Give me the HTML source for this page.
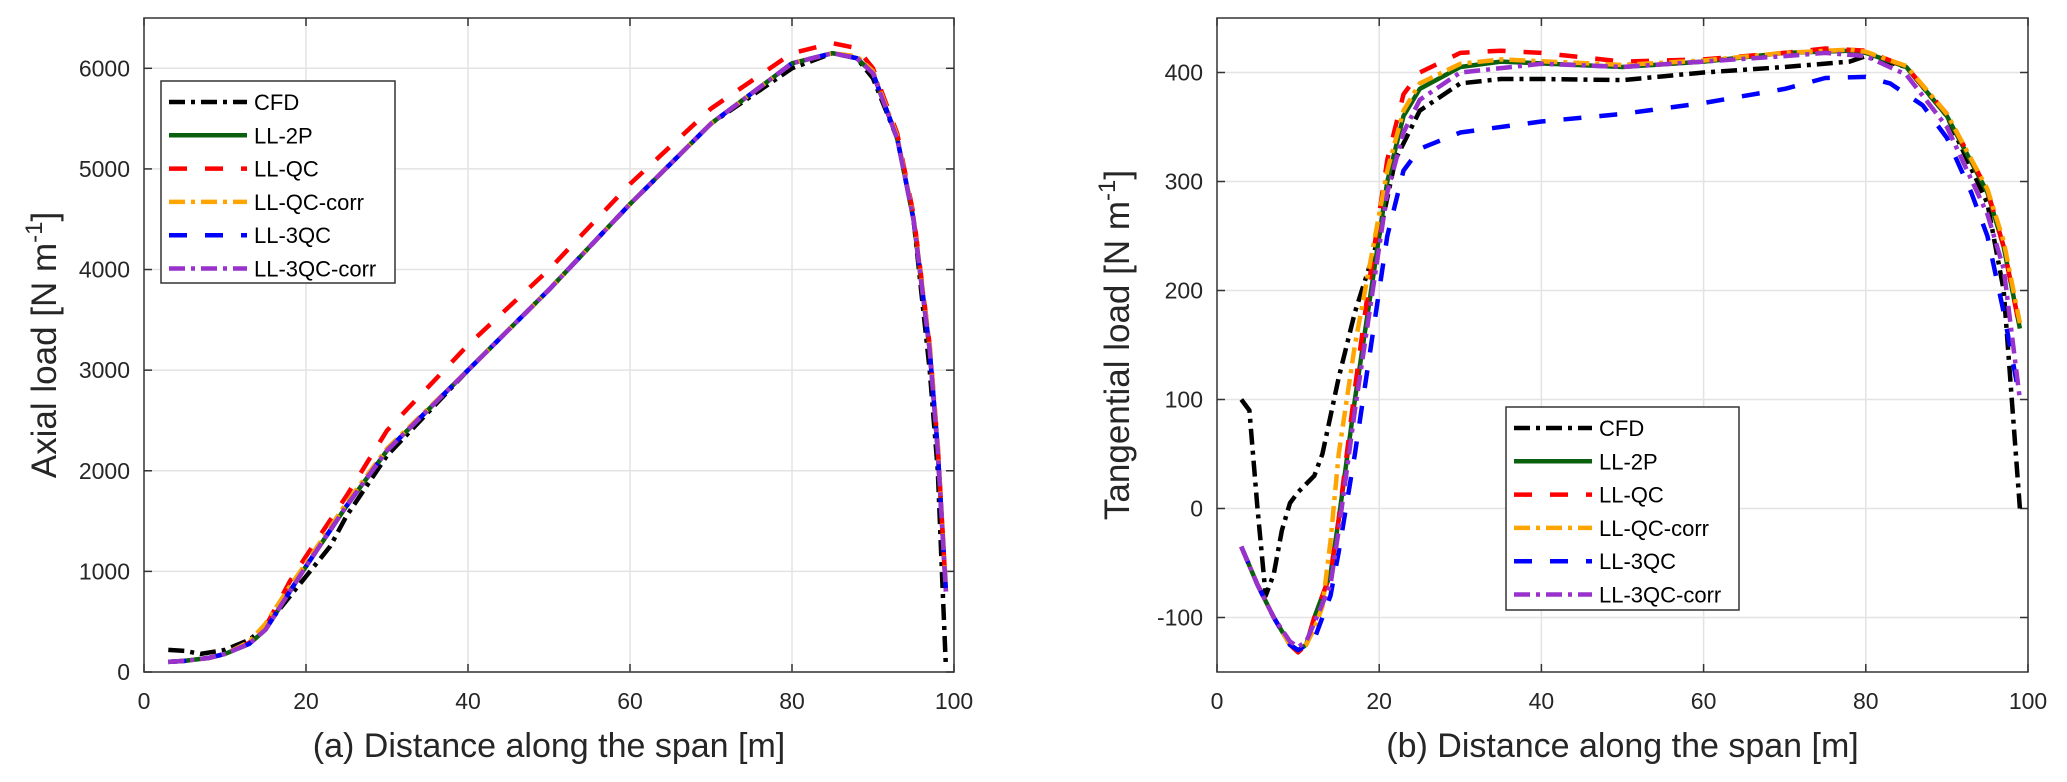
<!DOCTYPE html>
<html><head><meta charset="utf-8"><style>
body{margin:0;background:#fff;}
svg{display:block;font-family:"Liberation Sans",Arial,sans-serif;}
</style></head><body>
<svg id="fig" width="2067" height="782" viewBox="0 0 2067 782" xmlns="http://www.w3.org/2000/svg"></svg>
<script>
// ---- data: left (axial) ----
const axCFDx=[3,5,7,10,13,15,18,20,23,25,30,40,50,60,70,80,85,88,90,93,95,97,98,98.5,99];
const axCFDy=[220,210,180,220,320,450,750,950,1250,1550,2150,3000,3800,4650,5450,6000,6150,6100,5900,5300,4500,3000,2000,1000,50];
const ax2Px=[3,5,8,10,13,15,18,20,25,30,40,50,60,70,80,85,88,90,93,95,97,98,99];
const ax2Py=[100,110,140,180,280,420,800,1050,1650,2200,3000,3800,4650,5450,6050,6150,6100,5950,5300,4500,3200,2200,800];
const axQCx=[3,5,8,10,13,15,18,20,25,30,40,50,60,70,80,85,88,90,93,95,97,98,99];
const axQCy=[100,110,140,180,290,450,900,1150,1750,2400,3250,4000,4850,5600,6150,6250,6200,6000,5350,4550,3250,2250,800];
const axQCcx=[3,5,8,10,13,15,18,20,25,30,40,50,60,70,80,85,88,90,93,95,97,98,99];
const axQCcy=[100,110,140,180,300,480,850,1080,1680,2220,3000,3800,4650,5450,6050,6150,6120,5970,5320,4520,3250,2250,850];
const ax3QCx=[3,5,8,10,13,15,18,20,25,30,40,50,60,70,80,85,88,90,93,95,97,98,99];
const ax3QCy=[100,110,140,180,280,420,800,1050,1650,2200,3000,3800,4650,5450,6050,6150,6100,5950,5300,4500,3200,2200,800];
const ax3QCcx=[3,5,8,10,13,15,18,20,25,30,40,50,60,70,80,85,88,90,93,95,97,98,99];
const ax3QCcy=[100,110,140,180,280,420,800,1050,1650,2200,3000,3800,4650,5450,6050,6150,6100,5950,5300,4500,3200,2200,800];
// ---- data: right (tangential) ----
const tgCFDx=[3,4,5,6,7,8,9,10,12,13,15,17,20,22,25,30,35,40,50,60,70,78,80,85,90,95,97,98,99];
const tgCFDy=[100,90,0,-80,-60,-20,5,15,30,50,120,180,250,320,365,390,394,394,393,400,405,410,415,405,360,280,200,100,0];
const tg2Px=[3,5,7,9,10,11,12,14,15,17,19,21,23,25,30,35,50,60,70,78,80,85,90,95,97,99];
const tg2Py=[-35,-70,-100,-125,-130,-125,-100,-60,-10,100,200,300,360,385,405,410,405,410,418,420,418,405,360,290,240,165];
const tgQCx=[3,5,7,9,10,11,12,14,15,17,19,21,23,25,30,35,40,50,60,70,75,80,85,90,95,97,99];
const tgQCy=[-35,-70,-100,-125,-132,-125,-100,-60,-10,110,220,320,380,400,418,420,418,410,412,418,422,420,405,362,292,240,165];
const tgQCcx=[3,5,7,9,10,11,12,13,14,15,17,19,21,23,25,30,35,50,60,70,78,80,85,90,95,97,99];
const tgQCcy=[-35,-70,-100,-125,-130,-125,-110,-90,-30,50,150,230,310,365,390,408,412,407,411,418,421,419,406,362,293,245,170];
const tg3QCx=[3,5,7,9,10,12,14,15,17,19,21,23,25,30,40,50,60,70,75,80,83,87,90,93,95,97,99];
const tg3QCy=[-35,-70,-100,-125,-130,-120,-80,-40,50,150,250,310,330,345,355,362,372,385,395,396,390,370,340,290,250,180,100];
const tg3QCcx=[3,5,7,9,10,11,12,14,15,17,19,21,23,25,30,40,50,60,70,75,80,85,90,95,97,99];
const tg3QCcy=[-35,-70,-100,-122,-127,-122,-105,-70,-20,90,190,290,345,375,400,408,405,410,415,418,415,398,350,270,220,100];
const xTicks=[0,20,40,60,80,100];
const axYTicks=[0,1000,2000,3000,4000,5000,6000];
const tgYTicks=[-100,0,100,200,300,400];
const names=["CFD","LL-2P","LL-QC","LL-QC-corr","LL-3QC","LL-3QC-corr"];

const NS="http://www.w3.org/2000/svg";
const svg=document.getElementById('fig');
function mk(tag,attrs,parent){const e=document.createElementNS(NS,tag);for(const k in attrs)e.setAttribute(k,attrs[k]);(parent||svg).appendChild(e);return e;}
const styles=[
 {c:"#000000",d:"16 6 4 6"},
 {c:"#0b6010",d:""},
 {c:"#ff0000",d:"18 18"},
 {c:"#ffa500",d:"16 6 4 6"},
 {c:"#0000ff",d:"18 18"},
 {c:"#9932cc",d:"16 6 4 6"}];

function panel(id,L,R,T,B,ymin,ymax,yTicks,series,legend,ylabel,xlabel){
  const g=mk('g',{});
  
  
  const sx=v=>L+(v-0)/(100)*(R-L);
  const sy=v=>B-(v-ymin)/(ymax-ymin)*(B-T);
  mk('rect',{x:L,y:T,width:R-L,height:B-T,fill:'#fff'},g);
  for(const t of xTicks){const x=sx(t);
    if(t>0&&t<100){const gl=mk('line',{x1:x,x2:x,y1:T,y2:B,stroke:'#e3e3e3','stroke-width':1.5},g);}
    mk('line',{x1:x,x2:x,y1:B,y2:B-8,stroke:'#333','stroke-width':1.5},g);
    mk('line',{x1:x,x2:x,y1:T,y2:T+8,stroke:'#333','stroke-width':1.5},g);
    const tx=mk('text',{x:x,y:B+37,'font-size':23,'text-anchor':'middle',fill:'#262626'},g);tx.textContent=t;
    }
  for(const t of yTicks){const y=sy(t);
    const gl=mk('line',{x1:L,x2:R,y1:y,y2:y,stroke:'#e3e3e3','stroke-width':1.5},g);
    mk('line',{x1:L,x2:L+8,y1:y,y2:y,stroke:'#333','stroke-width':1.5},g);
    mk('line',{x1:R,x2:R-8,y1:y,y2:y,stroke:'#333','stroke-width':1.5},g);
    const tx=mk('text',{x:L-14,y:y+8,'font-size':23,'text-anchor':'end',fill:'#262626'},g);tx.textContent=t;
    }
  const clip=mk('clipPath',{id:'clip'+id},g);mk('rect',{x:L,y:T,width:R-L,height:B-T},clip);
  series.forEach((s,i)=>{
    const d=s[0].map((x,j)=>(j?'L':'M')+sx(x).toFixed(1)+','+sy(s[1][j]).toFixed(1)).join(' ');
    const p=mk('path',{d:d,fill:'none',stroke:styles[i].c,'stroke-width':4.5,'stroke-dasharray':styles[i].d,'stroke-linejoin':'round','clip-path':'url(#clip'+id+')'},g);
    
    
  });
  const fr=mk('rect',{x:L,y:T,width:R-L,height:B-T,fill:'none',stroke:'#333','stroke-width':1.5},g);
  
  // legend
  const lg=mk('g',{},g);
  
  
  mk('rect',{x:legend.x,y:legend.y,width:legend.w,height:legend.h,fill:'#fff',stroke:'#333','stroke-width':1.5},lg);
  names.forEach((n,i)=>{const y=legend.y+21+i*33.3;
    const e=mk('g',{},lg);
    
    
    mk('line',{x1:legend.x+8,x2:legend.x+86,y1:y,y2:y,stroke:styles[i].c,'stroke-width':4.5,'stroke-dasharray':styles[i].d},e);
    const t=mk('text',{x:legend.x+93,y:y+8,'font-size':22,fill:'#000'},e);t.textContent=n;});
  const yl=mk('text',{x:0,y:0,'font-size':35,'text-anchor':'middle',fill:'#262626',transform:`translate(${L-88},${(T+B)/2}) rotate(-90)`},g);
  yl.innerHTML=ylabel+' [N m<tspan dy="-14" font-size="24">-1</tspan><tspan dy="14">]</tspan>';
  
  const xl=mk('text',{x:(L+R)/2,y:B+85,'font-size':34,'text-anchor':'middle',fill:'#262626'},g);xl.textContent=xlabel;
  
}
panel('axial',144,954,18,672,0,6500,axYTicks,
 [[axCFDx,axCFDy],[ax2Px,ax2Py],[axQCx,axQCy],[axQCcx,axQCcy],[ax3QCx,ax3QCy],[ax3QCcx,ax3QCcy]],
 {x:161,y:81,w:234,h:202},'Axial load','(a) Distance along the span [m]');
panel('tangential',1217,2028,18,672,-150,450,tgYTicks,
 [[tgCFDx,tgCFDy],[tg2Px,tg2Py],[tgQCx,tgQCy],[tgQCcx,tgQCcy],[tg3QCx,tg3QCy],[tg3QCcx,tg3QCcy]],
 {x:1506,y:407,w:233,h:203},'Tangential load','(b) Distance along the span [m]');
</script>
</body></html>
